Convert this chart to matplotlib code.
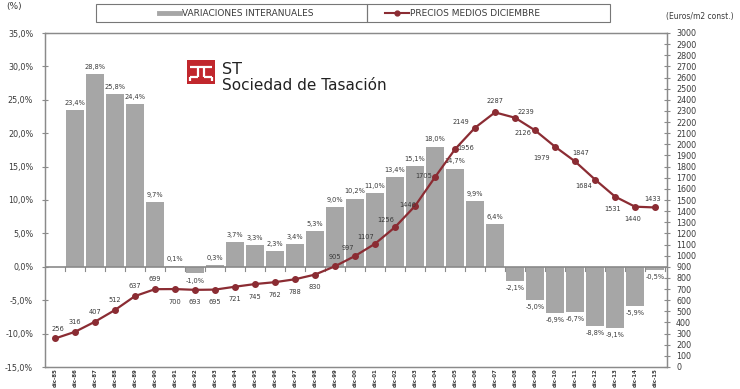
import matplotlib
matplotlib.use("Agg")
import matplotlib.pyplot as plt
from matplotlib.patches import Rectangle
from matplotlib.lines import Line2D

years = list(range(1985, 2016))
labels = ["dic-%02d" % (y % 100) for y in years]
prices = [256, 316, 407, 512, 637, 699, 700, 693, 695, 721, 745, 762, 788, 830, 905,
          997, 1107, 1256, 1446, 1705, 1956, 2149, 2287, 2239, 2126, 1979, 1847, 1684,
          1531, 1440, 1433]
var_years = list(range(1986, 2016))
variations = [23.4, 28.8, 25.8, 24.4, 9.7, 0.1, -1.0, 0.3, 3.7, 3.3, 2.3, 3.4, 5.3, 9.0,
              10.2, 11.0, 13.4, 15.1, 18.0, 14.7, 9.9, 6.4, -2.1, -5.0, -6.9, -6.7, -8.8,
              -9.1, -5.9, -0.5]
# label offsets for price points (points): (dx, dy)
price_off = [(2, 7), (0, 7), (0, 7), (0, 7), (0, 7), (0, 7), (0, -9), (0, -9), (0, -9),
             (0, -9), (0, -9), (0, -9), (0, -9), (0, -9), (0, 7), (-5, 6), (-7, 5),
             (-7, 5), (-5, 1), (-8, 1), (8, 1), (-10, 4), (0, 8), (8, 4), (-9, -2),
             (-10, -8), (4, 6), (-8, -5), (-2, -9), (-2, -9), (-2, 6)]

GRAY = "#a6a6a6"
RED = "#8b2c33"
TXT = "#3a3a3a"
FRAME = "#8a8a8a"

fig = plt.figure(figsize=(7.4, 3.89), dpi=100)
W, H = 740, 389
ax = fig.add_axes([45 / W, (H - 367) / H, (667 - 45) / W, (367 - 33) / H])
ax2 = ax.twinx()

xs_var = [years.index(y) for y in var_years]
ax.bar(xs_var, variations, width=0.86, color=GRAY, zorder=2)
ax.set_ylim(-15, 35)
ax.set_xlim(-0.5, 30.6)
ax.axhline(0, color=FRAME, lw=1.2, zorder=3)
for i in range(len(years)):
    ax.plot([i + 0.5, i + 0.5], [0, -0.6], color=FRAME, lw=0.8, zorder=3)

for x, v in zip(xs_var, variations):
    s = ("%.1f%%" % v).replace(".", ",")
    if v >= 0:
        ax.annotate(s, (x, v), xytext=(0, 3), textcoords="offset points",
                    ha="center", va="bottom", fontsize=4.8, color=TXT)
    else:
        ax.annotate(s, (x, v), xytext=(0, -3), textcoords="offset points",
                    ha="center", va="top", fontsize=4.8, color=TXT)

ax.set_yticks(range(-15, 36, 5))
ax.set_yticklabels([("%.1f%%" % t).replace(".", ",") for t in range(-15, 36, 5)],
                   fontsize=5.8, color=TXT)
ax.set_xticks(range(len(years)))
ax.set_xticklabels(labels, rotation=90, fontsize=3.9, color=TXT, fontweight="bold")
ax.tick_params(axis="x", length=0, pad=1)
ax.tick_params(axis="y", direction="inout", length=5, color=FRAME, pad=6)

ax2.plot(range(len(years)), prices, color=RED, lw=1.6, marker="o", ms=4,
         markerfacecolor=RED, markeredgecolor=RED, zorder=4)
ax2.set_ylim(0, 3000)
ax2.set_yticks(range(0, 3001, 100))
ax2.set_yticklabels([str(t) for t in range(0, 3001, 100)], fontsize=5.8, color=TXT)
ax2.tick_params(axis="y", direction="inout", length=5, color=FRAME, pad=4)
for i, (p, off) in enumerate(zip(prices, price_off)):
    ax2.annotate(str(p), (i, p), xytext=off, textcoords="offset points",
                 ha="center", va="center", fontsize=4.8, color=TXT, zorder=5)

for a in (ax, ax2):
    for sp in a.spines.values():
        sp.set_color(FRAME)
        sp.set_linewidth(0.9)

# axis unit captions
fig.text(6 / W, 1 - 6 / H, "(%)", fontsize=6.5, color=TXT, va="center", ha="left")
fig.text(700 / W, 1 - 17 / H, "(Euros/m2 const.)", fontsize=5.5, color=TXT,
         va="center", ha="center")

# legend boxes
fig.patches.append(Rectangle((96 / W, 1 - 22 / H), (367 - 96) / W, 18 / H,
                             transform=fig.transFigure, fill=False, ec="#777777", lw=0.8))
fig.patches.append(Rectangle((367 / W, 1 - 22 / H), (610 - 367) / W, 18 / H,
                             transform=fig.transFigure, fill=False, ec="#777777", lw=0.8))
fig.lines.append(Line2D([159 / W, 180 / W], [1 - 13 / H, 1 - 13 / H],
                        transform=fig.transFigure, color=GRAY, lw=3.5))
fig.text(182 / W, 1 - 13 / H, "VARIACIONES INTERANUALES", fontsize=6.5, color=TXT,
         va="center", ha="left")
fig.lines.append(Line2D([385 / W, 409 / W], [1 - 13 / H, 1 - 13 / H],
                        transform=fig.transFigure, color=RED, lw=1.5))
fig.lines.append(Line2D([397 / W], [1 - 13 / H], transform=fig.transFigure,
                        color=RED, marker="o", ms=3.5))
fig.text(410 / W, 1 - 13 / H, "PRECIOS MEDIOS DICIEMBRE", fontsize=6.5, color=TXT,
         va="center", ha="left")

# logo
LR = "#c1272d"
lx, ly, lw_, lh = 187, 60, 28, 24
fig.patches.append(Rectangle((lx / W, 1 - (ly + lh) / H), lw_ / W, lh / H,
                             transform=fig.transFigure, color=LR, lw=0))
def wline(x0, y0, x1, y1, w=1.6):
    fig.lines.append(Line2D([x0 / W, x1 / W], [1 - y0 / H, 1 - y1 / H],
                            transform=fig.transFigure, color="white", lw=w,
                            solid_capstyle="butt"))
wline(lx + 3, ly + 7, lx + lw_ - 3, ly + 7)
wline(lx + 11, ly + 7, lx + 11, ly + 17)
wline(lx + lw_ - 11, ly + 7, lx + lw_ - 11, ly + 17)
wline(lx + 3, ly + 17, lx + 11, ly + 17)
wline(lx + lw_ - 11, ly + 17, lx + lw_ - 3, ly + 17)
wline(lx + 3, ly + 17, lx + 3, ly + 21)
wline(lx + lw_ - 3, ly + 17, lx + lw_ - 3, ly + 21)
fig.text(222 / W, 1 - 69 / H, "ST", fontsize=11.5, color="#222222", va="center",
         ha="left", family="DejaVu Sans")
fig.text(222 / W, 1 - 86 / H, "Sociedad de Tasación", fontsize=11, color="#222222",
         va="center", ha="left", family="DejaVu Sans")

fig.savefig("out.png", dpi=100, facecolor="white")
